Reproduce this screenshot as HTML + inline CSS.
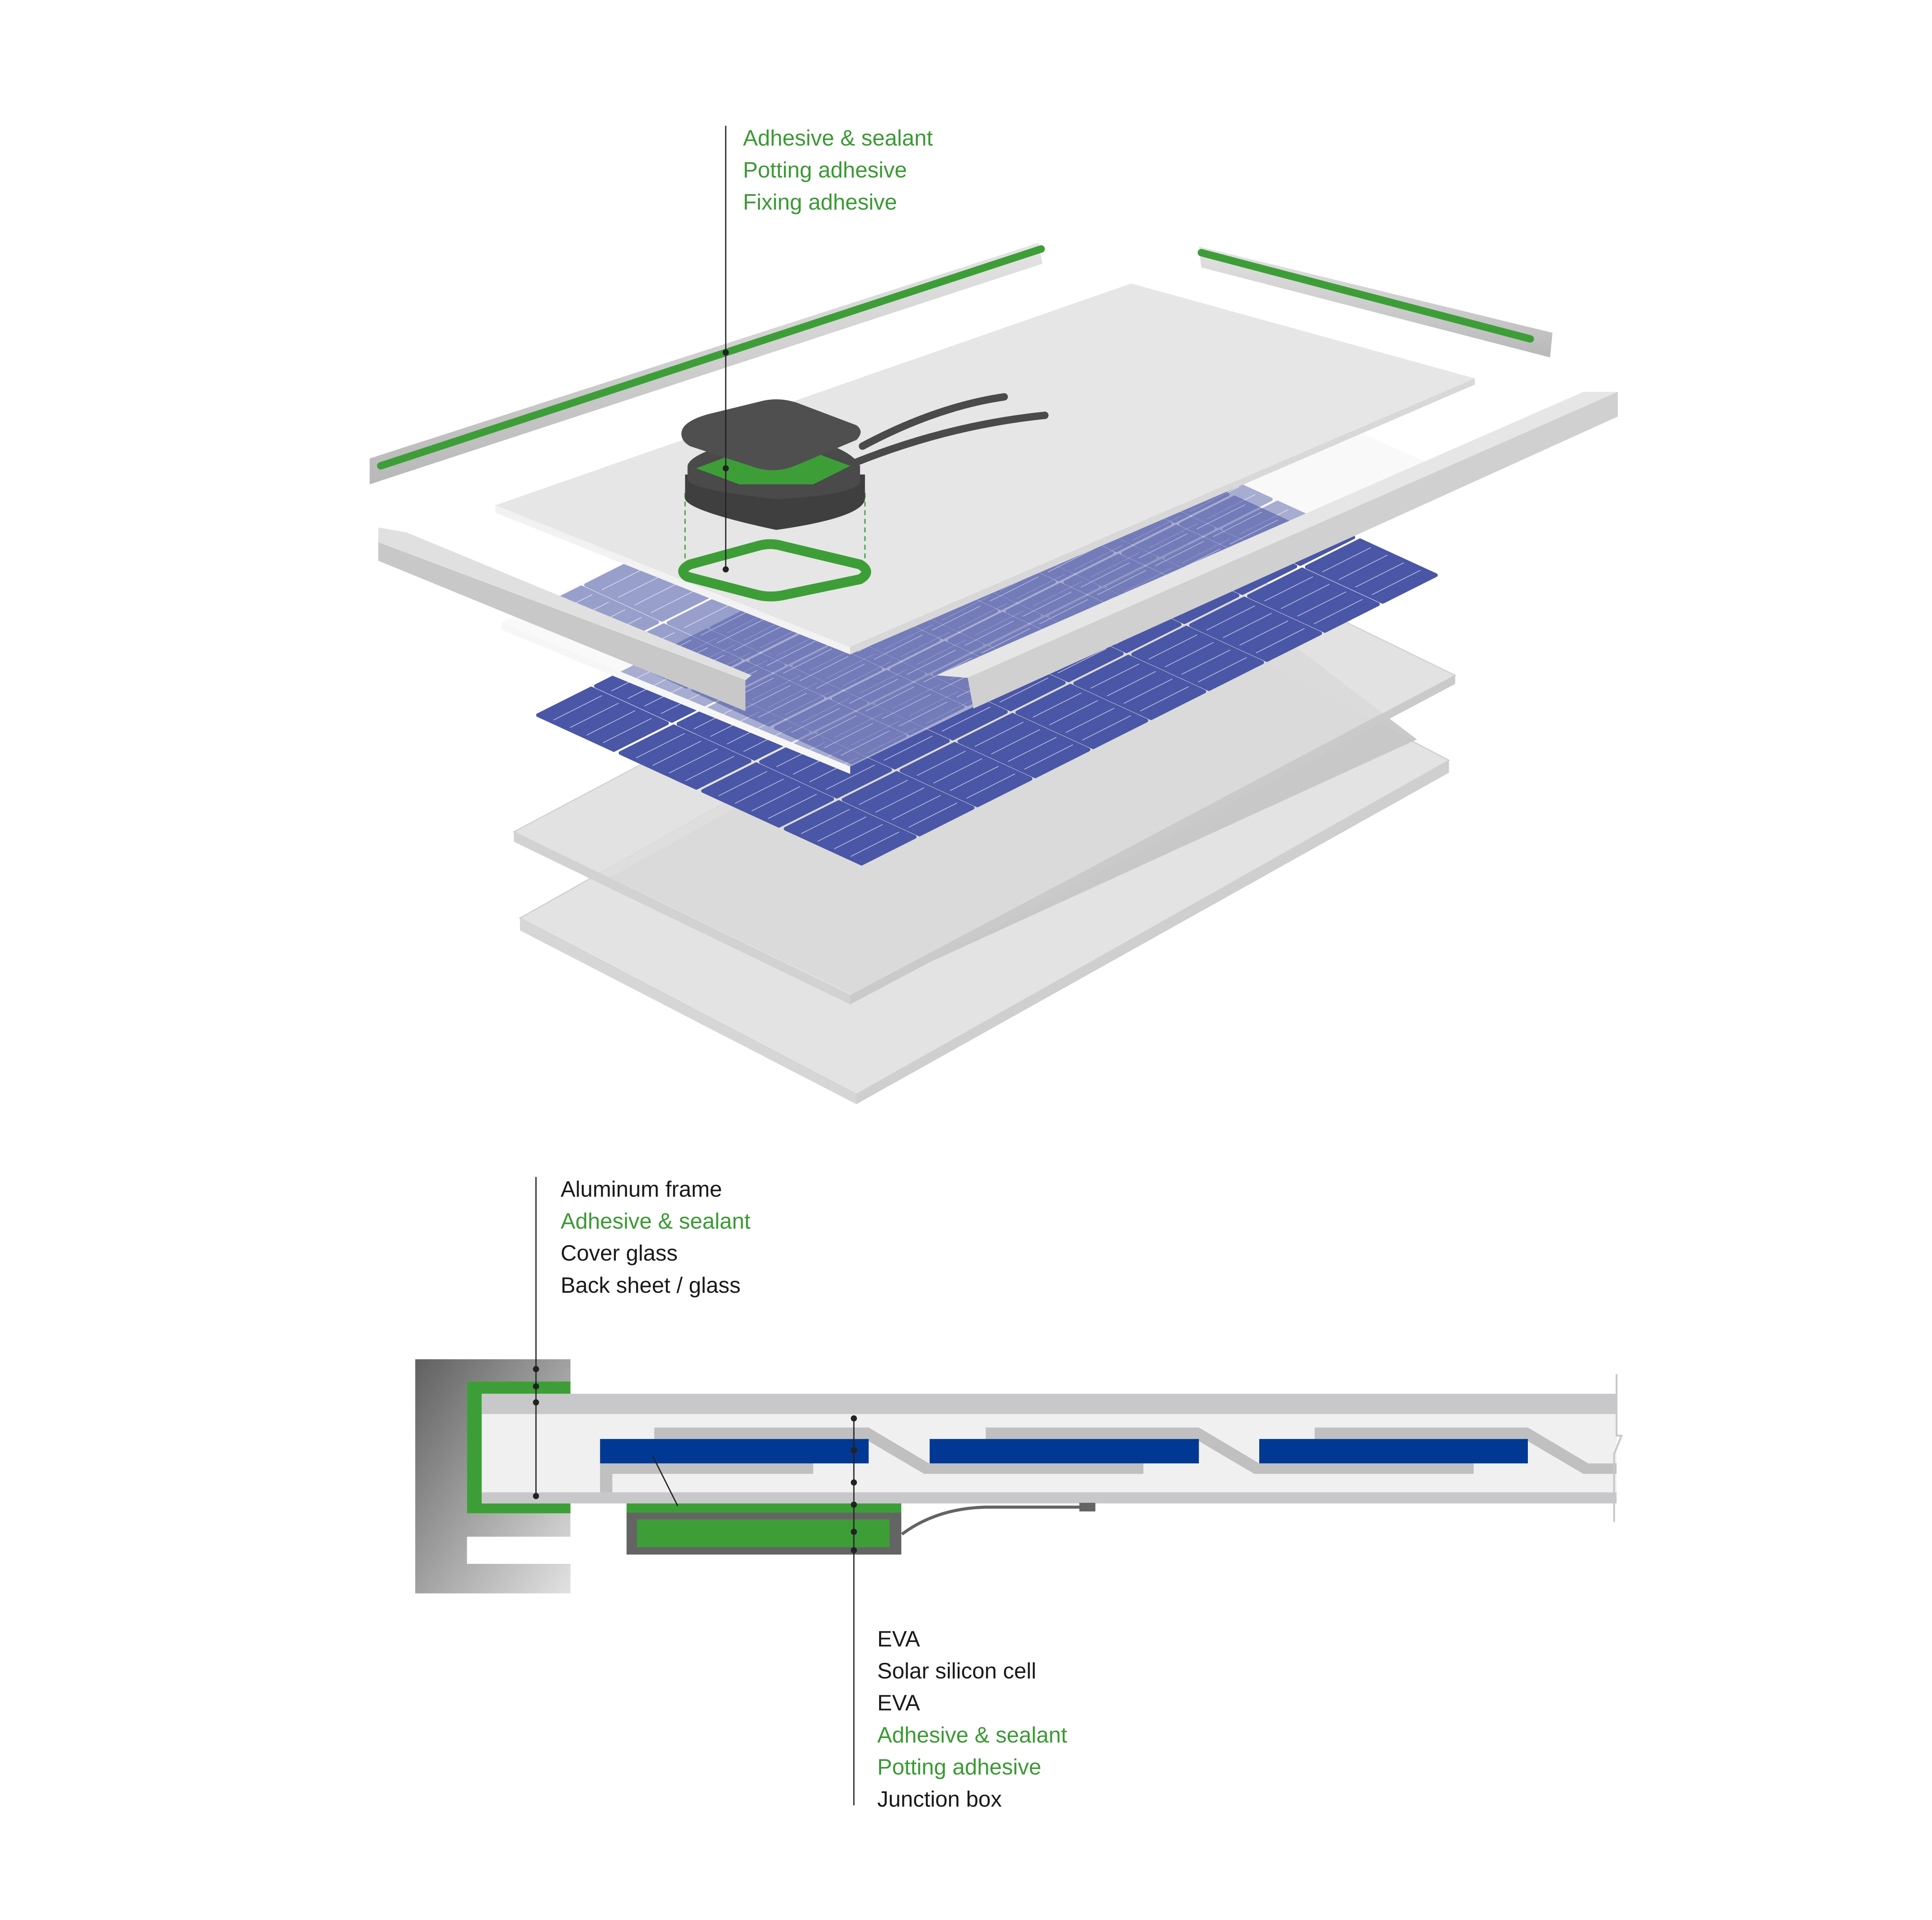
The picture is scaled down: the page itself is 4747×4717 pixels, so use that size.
<!DOCTYPE html>
<html><head><meta charset="utf-8"><style>
html,body{margin:0;padding:0;background:#fff}
svg{display:block}
text{font-family:"Liberation Sans",sans-serif;font-size:18px}
.g{fill:#3b9a34}.k{fill:#1a1a1a}
</style></head><body>
<svg id="s" xmlns="http://www.w3.org/2000/svg" width="4747" height="4717" viewBox="0 0 1568 1558">
<defs>
<linearGradient id="fr" x1="0" y1="0" x2="1" y2="1"><stop offset="0" stop-color="#606060"/><stop offset="1" stop-color="#e2e2e2"/></linearGradient>
<linearGradient id="rail" x1="0" y1="0" x2="0" y2="1"><stop offset="0" stop-color="#e4e4e4"/><stop offset="1" stop-color="#b8b8b8"/></linearGradient>
</defs>
<polygon points="422,745 903,474 1176,617 695,888" fill="#e3e3e3" stroke="#d0d0d0"/>
<polygon points="422,745 695,888 695,896 422,755" fill="#d6d6d6"/>
<polygon points="695,888 1176,617 1176,627 695,896" fill="#cfcfcf"/>
<polygon points="495,712 960,455 1150,600 695,808" fill="#c4c4c4" opacity="0.9"/>
<polygon points="417,675 908,415 1181,548 690,808" fill="#dedede" opacity="0.85" stroke="#cccccc"/>
<polygon points="417,675 690,808 690,815 417,683" fill="#d2d2d2"/>
<polygon points="690,808 1181,548 1181,555 690,815" fill="#cacaca"/>
<g id="cells1"></g>
<polygon points="407,505 690,622 1180,385 905,262" fill="#f4f4f4" opacity="0.55"/>
<g id="cells2" opacity="0.55"></g>
<polygon points="407,505 690,622 690,628 407,511" fill="#f6f6f6"/>
<polygon points="402,410 918,230 1197,307 690,525" fill="#e6e6e6"/>
<polygon points="402,410 690,525 690,531 402,416" fill="#f2f2f2"/>
<polygon points="690,525 1197,307 1197,312 690,531" fill="#d8d8d8"/>
<polygon points="300,372 843,197 846,214 300,393" fill="url(#rail)"/>
<line x1="309" y1="378" x2="845" y2="202" stroke="#3d9e38" stroke-width="6" stroke-linecap="round"/>
<polygon points="973,200 1260,270 1258,290 975,217" fill="url(#rail)"/>
<line x1="975" y1="205" x2="1242" y2="275" stroke="#3d9e38" stroke-width="6" stroke-linecap="round"/>
<polygon points="1290,318 1313,318 1313,338 790,575 785,548" fill="#d0d0d0"/>
<polygon points="1285,318 1313,318 785,550 760,548" fill="#e6e6e6"/>
<polygon points="307,428 330,432 610,548 605,552 307,440" fill="#e0e0e0"/>
<polygon points="307,440 605,552 605,577 307,455" fill="#c8c8c8"/>
<line x1="556" y1="400" x2="556" y2="460" stroke="#3d9e38" stroke-dasharray="4,3"/>
<line x1="702" y1="400" x2="702" y2="460" stroke="#3d9e38" stroke-dasharray="4,3"/>
<path d="M700,362 Q760,330 815,322" stroke="#4a4a4a" stroke-width="6" fill="none" stroke-linecap="round"/>
<path d="M695,375 Q770,345 848,337" stroke="#4a4a4a" stroke-width="6" fill="none" stroke-linecap="round"/>
<path d="M556,385 L556,405 Q560,415 630,430 Q700,420 702,405 L702,385 Z" fill="#3f3f3f"/>
<path d="M558,378 Q560,368 600,358 L640,352 Q690,362 698,378 L698,392 Q690,402 630,405 Q565,398 558,390 Z" fill="#4a4a4a"/>
<path d="M565,380 L605,365 L655,365 L690,378 L660,393 L600,393 Z" fill="#3d9e38"/>
<path d="M553,352 Q553,342 575,336 L620,325 Q635,322 650,328 L695,345 Q702,350 695,357 L645,378 Q630,384 615,380 L560,362 Q553,358 553,352 Z" fill="#4f4f4f"/>
<path d="M560,458 L615,443 Q625,440 635,443 L698,458 Q708,464 698,470 L640,482 Q625,486 612,482 L558,468 Q550,463 560,458 Z" fill="none" stroke="#3d9e38" stroke-width="8"/>
<line x1="589" y1="102" x2="589" y2="463" stroke="#222" stroke-width="1"/>
<circle cx="589" cy="286" r="2.5" fill="#222"/><circle cx="589" cy="380" r="2.5" fill="#222"/><circle cx="589" cy="462" r="2.5" fill="#222"/>
<text x="603" y="118" class="g">Adhesive &amp; sealant</text>
<text x="603" y="144" class="g">Potting adhesive</text>
<text x="603" y="170" class="g">Fixing adhesive</text>

<path d="M337,1103 H463 V1121 H379 V1228 H463 V1247 H379 V1269 H463 V1293 H337 Z" fill="url(#fr)"/>
<path d="M379,1121 H463 V1131 H391 V1220 H463 V1228 H379 Z" fill="#3d9e38"/>
<rect x="391" y="1131" width="921" height="16.5" fill="#c8c8ca"/>
<rect x="391" y="1147.5" width="921" height="63.5" fill="#f0f0f0"/>
<rect x="391" y="1211" width="921" height="9" fill="#c8c8ca"/>
<g fill="#c0c0c0">
<path d="M531,1158.4 H705 L754,1187.5 H928 V1196 H750 L702,1167.7 H531 Z"/>
<path d="M800,1158.4 H973 L1022,1187.5 H1196 V1196 H1018 L970,1167.7 H800 Z"/>
<path d="M1067,1158.4 H1240 L1289,1187.5 H1312 V1196 H1285 L1237,1167.7 H1067 Z"/>
<path d="M487,1187 H660 V1196 H497 V1211 H487 Z"/>
</g>
<g fill="#003893">
<rect x="487" y="1167.7" width="218" height="19.8"/>
<rect x="754.5" y="1167.7" width="218.5" height="19.8"/>
<rect x="1022" y="1167.7" width="218" height="19.8"/>
</g>
<path d="M1312,1115 V1165 L1316,1165 L1310,1180 V1235" stroke="#c8c8c8" stroke-width="1.5" fill="none"/>
<rect x="508.5" y="1220" width="223" height="8" fill="#3d9e38"/>
<rect x="508.5" y="1227.5" width="223" height="34" fill="#646464"/>
<rect x="517" y="1233" width="205" height="22.5" fill="#3d9e38"/>
<path d="M732,1245 Q760,1224 800,1223 H877" stroke="#646464" stroke-width="2.5" fill="none"/>
<rect x="876" y="1219.5" width="13" height="7" fill="#646464"/>
<line x1="530" y1="1182" x2="550" y2="1222" stroke="#222" stroke-width="1"/>
<line x1="435" y1="955" x2="435" y2="1215" stroke="#222" stroke-width="1"/>
<g fill="#222"><circle cx="435" cy="1111" r="2.5"/><circle cx="435" cy="1125" r="2.5"/><circle cx="435" cy="1138" r="2.5"/><circle cx="435" cy="1214" r="2.5"/></g>
<line x1="693" y1="1151" x2="693" y2="1465" stroke="#222" stroke-width="1"/>
<g fill="#222"><circle cx="693" cy="1151" r="2.5"/><circle cx="693" cy="1177" r="2.5"/><circle cx="693" cy="1203" r="2.5"/><circle cx="693" cy="1221" r="2.5"/><circle cx="693" cy="1243" r="2.5"/><circle cx="693" cy="1258" r="2.5"/></g>
<text x="455" y="971" class="k">Aluminum frame</text>
<text x="455" y="997" class="g">Adhesive &amp; sealant</text>
<text x="455" y="1023" class="k">Cover glass</text>
<text x="455" y="1049" class="k">Back sheet / glass</text>
<text x="712" y="1336" class="k">EVA</text>
<text x="712" y="1362" class="k">Solar silicon cell</text>
<text x="712" y="1388" class="k">EVA</text>
<text x="712" y="1414" class="g">Adhesive &amp; sealant</text>
<text x="712" y="1440" class="g">Potting adhesive</text>
<text x="712" y="1466" class="k">Junction box</text>
</svg>
<script>
function grid(id,B,dx,dy,cols){
 var g=document.getElementById(id),h="";
 var u=[-67,-30.75],v=[47,-23.6];
 for(var i=0;i<4;i++)for(var j=0;j<cols;j++){
  var ox=B[0]+dx+i*u[0]+j*v[0],oy=B[1]+dy+i*u[1]+j*v[1];
  var p=function(a,b){return [(ox+a*u[0]+b*v[0]).toFixed(1),(oy+a*u[1]+b*v[1]).toFixed(1)]};
  var g1=0.04,g2=0.96;
  h+='<polygon points="'+p(g1,g1)+' '+p(g2,g1)+' '+p(g2,g2)+' '+p(g1,g2)+'" fill="#4a56a6" stroke="#4a56a6" stroke-width="3" stroke-linejoin="round"/>';
  for(var k=1;k<5;k++){var a=k/5,s=p(a,0.08),e=p(a,0.92);h+='<line x1="'+s[0]+'" y1="'+s[1]+'" x2="'+e[0]+'" y2="'+e[1]+'" stroke="#b8bde0" stroke-width="0.6"/>';}
 }
 g.innerHTML=h;
}
grid("cells1",[700,703],0,0,10);
grid("cells2",[700,703],-8,-82,8);
</script>
</body></html>
